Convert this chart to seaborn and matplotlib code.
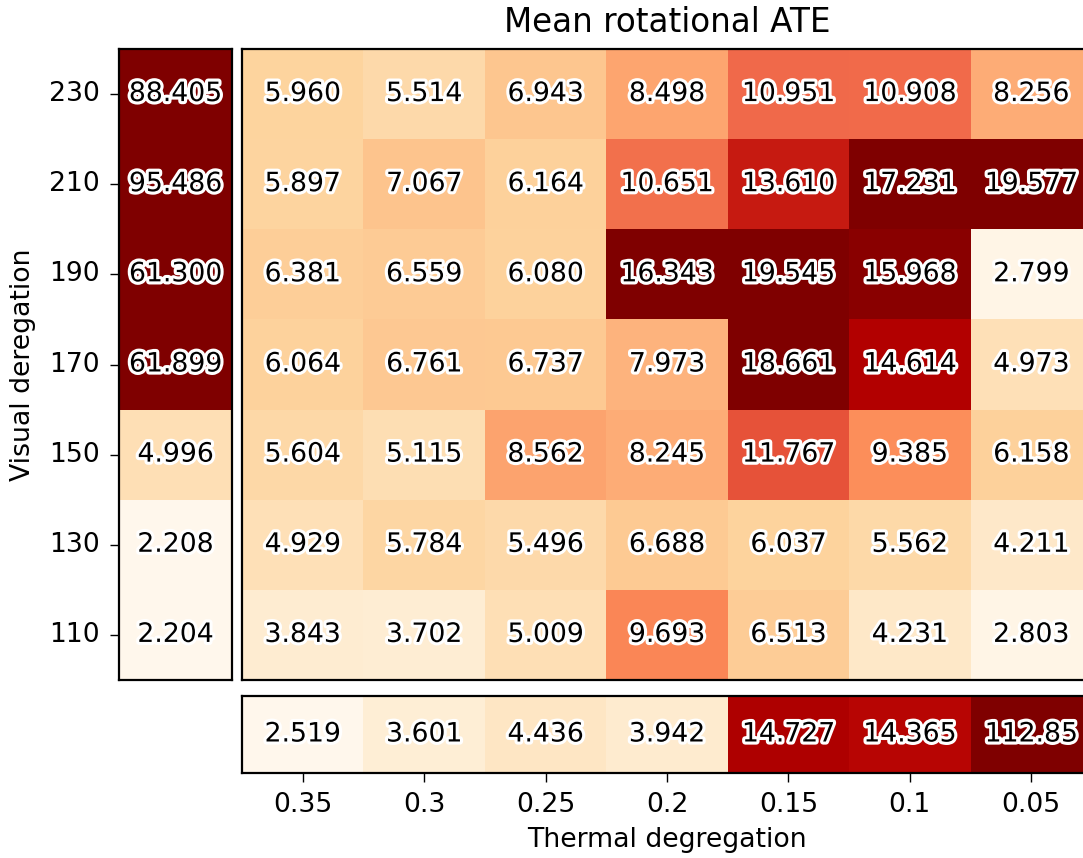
import numpy as np
import pandas as pd
import matplotlib
matplotlib.use("Agg")
import matplotlib.pyplot as plt
import matplotlib.patheffects as pe
import seaborn as sns

visual = [230, 210, 190, 170, 150, 130, 110]
thermal = ["0.35", "0.3", "0.25", "0.2", "0.15", "0.1", "0.05"]

row_230 = [5.960, 5.514, 6.943, 8.498, 10.951, 10.908, 8.256]
row_210 = [5.897, 7.067, 6.164, 10.651, 13.610, 17.231, 19.577]
row_190 = [6.381, 6.559, 6.080, 16.343, 19.545, 15.968, 2.799]
row_170 = [6.064, 6.761, 6.737, 7.973, 18.661, 14.614, 4.973]
row_150 = [5.604, 5.115, 8.562, 8.245, 11.767, 9.385, 6.158]
row_130 = [4.929, 5.784, 5.496, 6.688, 6.037, 5.562, 4.211]
row_110 = [3.843, 3.702, 5.009, 9.693, 6.513, 4.231, 2.803]

visual_only = [88.405, 95.486, 61.300, 61.899, 4.996, 2.208, 2.204]
thermal_only = [2.519, 3.601, 4.436, 3.942, 14.727, 14.365, 112.850]

main = pd.DataFrame([row_230, row_210, row_190, row_170, row_150, row_130, row_110],
                    index=visual, columns=thermal)
left = pd.DataFrame({"v": visual_only}, index=visual)
bottom = pd.DataFrame([thermal_only], columns=thermal)

def labels(df):
    return np.vectorize(lambda v: f"{v:.3f}"[:6])(df.values)

VMIN, VMAX = 2.5, 16.3
FS = 19.2
LFS = 19.3
cmap = "OrRd"
annot_kws = dict(color="black", fontsize=FS,
                 path_effects=[pe.withStroke(linewidth=4.5, foreground="white")])

W, H = 1083, 858
fig = plt.figure(figsize=(W / 100, H / 100), dpi=100)

def ax_px(x0, y0, x1, y1):
    return fig.add_axes([x0 / W, 1 - y1 / H, (x1 - x0) / W, (y1 - y0) / H])

ax_left = ax_px(119, 49, 232, 680)
ax_main = ax_px(242, 49, 1092, 680)
ax_bot = ax_px(242, 696, 1092, 773)

sns.heatmap(left, ax=ax_left, cmap=cmap, vmin=VMIN, vmax=VMAX, cbar=False,
            annot=labels(left), fmt="", annot_kws=annot_kws,
            xticklabels=False, yticklabels=[str(v) for v in visual])
sns.heatmap(main, ax=ax_main, cmap=cmap, vmin=VMIN, vmax=VMAX, cbar=False,
            annot=labels(main), fmt="", annot_kws=annot_kws,
            xticklabels=False, yticklabels=False)
sns.heatmap(bottom, ax=ax_bot, cmap=cmap, vmin=VMIN, vmax=VMAX, cbar=False,
            annot=labels(bottom), fmt="", annot_kws=annot_kws,
            xticklabels=thermal, yticklabels=False)

for ax in (ax_left, ax_main, ax_bot):
    for s in ax.spines.values():
        s.set_visible(True)
        s.set_linewidth(1.6)
        s.set_color("black")
    ax.set_xlabel("")
    ax.set_ylabel("")

ax_left.tick_params(axis="y", labelsize=FS, length=6.5, width=1.0, pad=7.5, rotation=0)
ax_left.tick_params(axis="x", length=0)
ax_main.tick_params(length=0)
ax_bot.tick_params(axis="x", labelsize=FS, length=6.5, width=1.0, pad=7.5, rotation=0)
ax_bot.tick_params(axis="y", length=0)

ax_left.set_ylabel("Visual deregation", fontsize=LFS, labelpad=9)
ax_bot.set_xlabel("Thermal degregation", fontsize=LFS, labelpad=6)
ax_main.set_title("Mean rotational ATE", fontsize=23.5, pad=12)

fig.savefig("out.png", dpi=100)
